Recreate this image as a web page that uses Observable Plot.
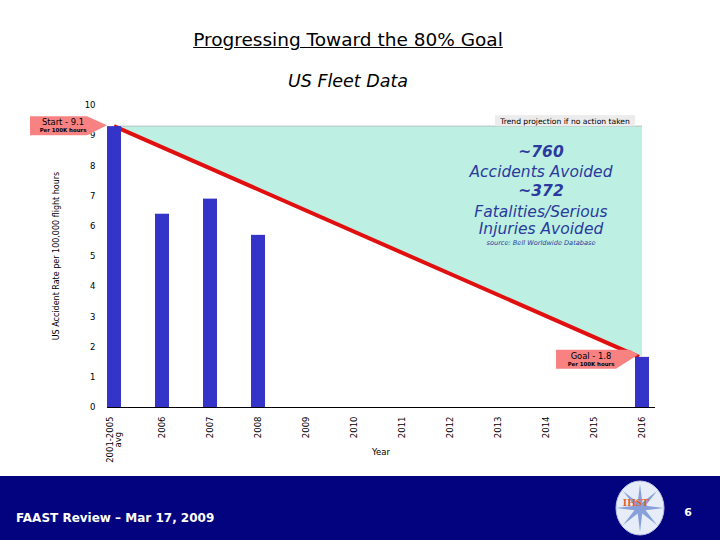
<!DOCTYPE html>
<html>
<head>
<meta charset="utf-8">
<script src="https://cdn.jsdelivr.net/npm/d3@7"></script>
<script src="https://cdn.jsdelivr.net/npm/@observablehq/plot@0.6"></script>
<style>
  body { margin: 0; background: #fff; }
  #page { position: relative; width: 720px; height: 540px; overflow: hidden; font-family: "DejaVu Sans", Verdana, sans-serif; background: #fff; }
  #title { position: absolute; top: 29px; left: 0; width: 696px; text-align: center; font-size: 18.5px; text-decoration: underline; color: #000; line-height: 21px; }
  #subtitle { position: absolute; top: 71px; left: 0; width: 696px; text-align: center; font-size: 17.5px; font-style: italic; color: #000; line-height: 20px; }
  #chart { position: absolute; top: 95px; left: 0; }
  #footer { position: absolute; top: 476px; left: 0; width: 720px; height: 64px; background: #03037f; }
  #footer svg { position: absolute; left: 0; top: 0; }
</style>
</head>
<body>
<div id="page">
  <div id="title"></div>
  <div id="subtitle"></div>
  <div id="chart"></div>
  <div id="footer"></div>
</div>
<script>
// ---- data ----
const titleText = "Progressing Toward the 80% Goal";
const subtitleText = "US Fleet Data";
const categories = ["2001-2005 avg", "2006", "2007", "2008", "2009", "2010", "2011", "2012", "2013", "2014", "2015", "2016"];
const rates = [9.3, 6.4, 6.9, 5.7, null, null, null, null, null, null, null, 1.66];
const yTicks = [0, 1, 2, 3, 4, 5, 6, 7, 8, 9, 10];
const yTitle = "US Accident Rate per 100,000 flight hours";
const xTitle = "Year";
const startLabel = "Start - 9.1";
const goalLabel = "Goal - 1.8";
const unitLabel = "Per 100K hours";
const trendLabel = "Trend projection if no action taken";
const avoidedLines = ["~760", "Accidents Avoided", "~372", "Fatalities/Serious", "Injuries Avoided"];
const sourceNote = "source: Bell Worldwide Database";
const footerText = "FAAST Review \u2013 Mar 17, 2009";
const pageNumber = "6";
const logoText = "IHST";

document.getElementById("title").textContent = titleText;
document.getElementById("subtitle").textContent = subtitleText;

const data = categories.map((c, i) => ({year: c, rate: rates[i]})).filter(d => d.rate != null);

const plot = Plot.plot({
  width: 720,
  height: 375,
  marginLeft: 107,
  marginRight: 65,
  marginTop: 10,
  marginBottom: 63,
  style: {fontFamily: "DejaVu Sans, Verdana, sans-serif", fontSize: "8.5px", background: "transparent", overflow: "visible", color: "#000"},
  x: {type: "band", domain: categories, paddingInner: 0.71, paddingOuter: 0.02, align: 0,
      label: null, tickSize: 0, tickPadding: 9, tickRotate: -90, tickFormat: d => d.replace(" ", "\n")},
  y: {domain: [0, 10], ticks: yTicks, label: null, tickSize: 0, tickPadding: 12, tickFormat: d => String(d)},
  marks: [
    Plot.barY(data, {x: "year", y: "rate", fill: "#3434c8"}),
    Plot.ruleY([0], {stroke: "#000", strokeWidth: 1})
  ]
});
document.getElementById("chart").appendChild(plot);

// center the two-line first tick label like the reference
try {
  plot.querySelectorAll("text").forEach(el => {
    const spans = el.querySelectorAll("tspan");
    if (spans.length === 2) {
      const w1 = spans[0].getComputedTextLength();
      el.setAttribute("text-anchor", "middle");
      el.style.textAnchor = "middle";
      el.setAttribute("transform", (el.getAttribute("transform") || "") + ` translate(${-w1 / 2},0)`);
    }
  });
} catch (e) {}

// ---- annotations positioned through the plot's scales ----
const xs = plot.scale("x"), ys = plot.scale("y");
const bw = xs.bandwidth;
const cx = c => xs.apply(c) + bw / 2;
const first = categories[0], last = categories[categories.length - 1];
const startV = rates[0], goalV = rates[rates.length - 1];
const svg = d3.select(plot);
const barNode = plot.querySelector('g[aria-label="bar"]');

const under = document.createElementNS("http://www.w3.org/2000/svg", "g");
barNode.parentNode.insertBefore(under, barNode);
const gu = d3.select(under);
const x0 = cx(first), x1 = cx(last), yS = ys.apply(startV), yG = ys.apply(goalV);
gu.append("polygon")
  .attr("points", [[x0, yS], [x1, yS], [x1, yG]].map(p => p.join(",")).join(" "))
  .attr("fill", "#bdf0e2");
gu.append("line").attr("x1", x0).attr("y1", yS).attr("x2", x1).attr("y2", yS)
  .attr("stroke", "#9fb8b0").attr("stroke-width", 0.8);
gu.append("line").attr("x1", x0).attr("y1", yS).attr("x2", x1 - 3).attr("y2", yG)
  .attr("stroke", "#e01010").attr("stroke-width", 4);

const over = svg.append("g");
// trend label box
const trRight = x1 - 7, trTop = yS - 11;
over.append("rect").attr("x", trRight - 140).attr("y", trTop).attr("width", 140).attr("height", 11).attr("fill", "#ececec");
over.append("text").attr("x", trRight - 70).attr("y", trTop + 8.5).attr("text-anchor", "middle")
  .attr("font-size", 7.6).attr("fill", "#000").text(trendLabel);

// avoided text block
const tx = 541, baseY = 157 - 95;
const lineYs = [0, 20, 39, 60, 77];
avoidedLines.forEach((t, i) => {
  over.append("text").attr("x", tx).attr("y", baseY + lineYs[i]).attr("text-anchor", "middle")
    .attr("font-size", 15.5).attr("font-style", "italic").attr("font-weight", i % 2 === 0 && i < 3 ? "bold" : "normal")
    .attr("fill", "#2b3a9e").text(t);
});
over.append("text").attr("x", tx).attr("y", baseY + 88).attr("text-anchor", "middle")
  .attr("font-size", 6.6).attr("font-style", "italic").attr("fill", "#2b3a9e").text(sourceNote);

// start arrow
const sTipX = xs.apply(first), sTipY = yS - 1;
const sL = sTipX - 77, sTop = sTipY - 9, sBot = sTipY + 10;
over.append("polygon").attr("points", [[sL, sTop], [sTipX - 20, sTop], [sTipX, sTipY], [sTipX - 20, sBot], [sL, sBot]].map(p => p.join(",")).join(" "))
  .attr("fill", "#f88282");
over.append("text").attr("x", sL + 33).attr("y", sTop + 9).attr("text-anchor", "middle").attr("font-size", 8.4).attr("fill", "#000").text(startLabel);
over.append("text").attr("x", sL + 33).attr("y", sTop + 16).attr("text-anchor", "middle").attr("font-size", 5.4).attr("font-weight", "bold").attr("fill", "#000").text(unitLabel);

// goal arrow
const gTipX = xs.apply(last) + 3, gTipY = yG - 2;
const gL = gTipX - 82, gTop = gTipY - 5, gBot = gTipY + 14;
over.append("polygon").attr("points", [[gL, gTop], [gTipX - 8, gTop], [gTipX, gTipY], [gTipX - 22, gBot], [gL, gBot]].map(p => p.join(",")).join(" "))
  .attr("fill", "#f88282");
over.append("text").attr("x", gL + 35).attr("y", gTop + 9).attr("text-anchor", "middle").attr("font-size", 8.4).attr("fill", "#000").text(goalLabel);
over.append("text").attr("x", gL + 35).attr("y", gTop + 16).attr("text-anchor", "middle").attr("font-size", 5.4).attr("font-weight", "bold").attr("fill", "#000").text(unitLabel);

// axis titles
const [r0, r1] = ys.range;
over.append("text").attr("transform", `translate(59,${(r0 + r1) / 2}) rotate(-90)`).attr("text-anchor", "middle")
  .attr("font-size", 8).attr("fill", "#000").text(yTitle);
over.append("text").attr("x", (xs.range[0] + xs.range[1]) / 2).attr("y", 360).attr("text-anchor", "middle")
  .attr("font-size", 8.5).attr("fill", "#000").text(xTitle);

// ---- footer ----
const fs = d3.select("#footer").append("svg").attr("width", 720).attr("height", 64);
fs.append("text").attr("x", 16).attr("y", 46).attr("font-size", 12).attr("font-weight", "bold").attr("fill", "#fff").text(footerText);
const lg = fs.append("g").attr("transform", "translate(640,32)");
lg.append("ellipse").attr("rx", 24).attr("ry", 27).attr("fill", "#e6ecf8").attr("stroke", "#b8c4e0");
const star = d3.range(16).map(i => {
  const a = i * Math.PI / 8 - Math.PI / 2, r = i % 2 === 0 ? 24 : 6;
  return [r * Math.cos(a), r * Math.sin(a)].join(",");
}).join(" ");
lg.append("polygon").attr("points", star).attr("fill", "#7c98d6").attr("opacity", 0.9);
lg.append("text").attr("x", -4).attr("y", -2).attr("text-anchor", "middle").attr("font-size", 11).attr("font-weight", "bold")
  .attr("font-family", "Liberation Serif, serif").attr("fill", "#e0602e").text(logoText);
fs.append("text").attr("x", 688).attr("y", 40).attr("text-anchor", "middle").attr("font-size", 11).attr("font-weight", "bold").attr("fill", "#fff").text(pageNumber);
</script>
</body>
</html>
